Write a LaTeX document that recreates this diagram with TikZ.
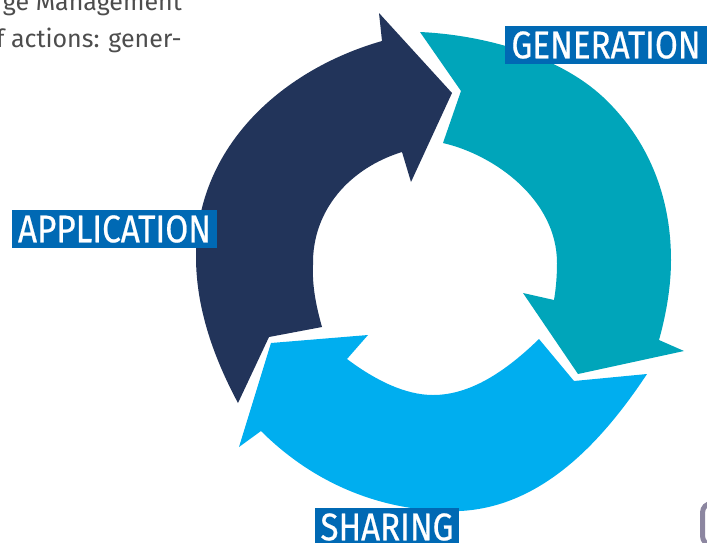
\documentclass[tikz,border=0pt]{standalone}
\usepackage{fontspec}
\setmainfont{Fira Sans}
\newfontfamily\bodyfont{Fira Sans}
\newfontfamily\labelfont[FakeBold=0.6]{Fira Sans}
\definecolor{navyarrow}{HTML}{22345A}
\definecolor{tealarrow}{HTML}{00A5BA}
\definecolor{bluearrow}{HTML}{00AEEF}
\definecolor{labelblue}{HTML}{0069B4}
\definecolor{bodygray}{HTML}{4D4D4D}
\definecolor{framegray}{HTML}{8C86A0}
\tikzset{
  labelbox/.style={fill=labelblue,text=white,inner sep=0pt,minimum height=38pt,align=center,font=\labelfont},
  bodytext/.style={text=bodygray,inner sep=0pt,anchor=base east,font=\bodyfont\fontsize{25}{30}\selectfont}
}
\newcommand{\capsfit}[2]{\resizebox{#1pt}{27pt}{#2}}
\begin{document}
\begin{tikzpicture}[x=1pt,y=-1pt]
\useasboundingbox (0,0) rectangle (707,542);
\clip (0,0) rectangle (707,542);
\fill[tealarrow] (420,32) .. controls (485,35) and (559,56) .. (603,97)
  .. controls (654,145) and (671,205) .. (671,260)
  .. controls (671,287) and (666,315) .. (659,340) -- (684,351) -- (578,374) -- (523,293) -- (554,300)
  .. controls (556,288) and (557,276) .. (557,263)
  .. controls (557,200) and (495,155) .. (443,143) -- (461,91) -- cycle;
\fill[navyarrow] (382,41) -- (379,13) -- (452,93) -- (411,182) -- (402,152)
  .. controls (350,168) and (312,210) .. (313,265)
  .. controls (312,285) and (316,306) .. (322,327) -- (269,337) -- (238,403)
  .. controls (215,360) and (196,310) .. (196,257)
  .. controls (196,145) and (284,69) .. (382,41) -- cycle;
\fill[bluearrow] (271,343) -- (368,335) -- (347,359)
  .. controls (375,380) and (405,395) .. (433,395)
  .. controls (470,395) and (505,372) .. (539,339) -- (574,381) -- (647,374)
  .. controls (600,445) and (540,507) .. (460,511)
  .. controls (385,513) and (315,485) .. (261,431) -- (239,447) -- cycle;
\node[labelbox,minimum width=202pt] (generation) at (606,45) {\capsfit{189}{GENERATION}};
\node[labelbox,minimum width=205pt] (application) at (114.5,229) {\capsfit{193}{APPLICATION}};
\node[labelbox,minimum width=144pt] (sharing) at (387,527) {\capsfit{133}{SHARING}};
\node[bodytext] (line one) at (182,10) {ge Management};
\node[bodytext] (line two) at (182,47) {f actions: gener-};
\draw[framegray,line width=5pt,rounded corners=9pt] (702.5,503.5) rectangle (740,545);
\end{tikzpicture}
\end{document}
